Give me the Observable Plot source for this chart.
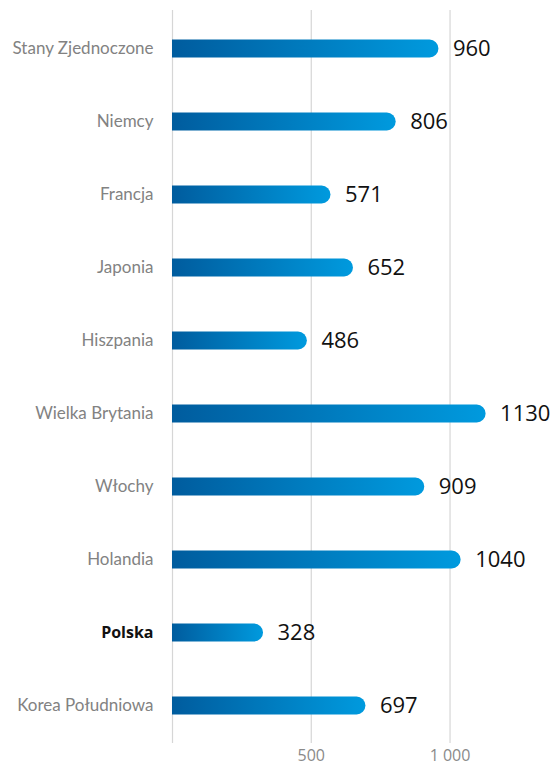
<!DOCTYPE html>
<html>
<head>
<meta charset="utf-8">
<script src="https://cdn.jsdelivr.net/npm/d3@7"></script>
<script src="https://cdn.jsdelivr.net/npm/@observablehq/plot@0.6"></script>
<style>
  html, body { margin: 0; padding: 0; background: #fff; }
  #chart svg { display: block; }
</style>
</head>
<body>
<div id="chart"></div>
<script>
const countries = ["Stany Zjednoczone", "Niemcy", "Francja", "Japonia", "Hiszpania", "Wielka Brytania", "Włochy", "Holandia", "Polska", "Korea Południowa"];
const values = [960, 806, 571, 652, 486, 1130, 909, 1040, 328, 697];
const tickValues = [500, 1000];
const tickLabels = ["500", "1 000"];
const highlight = "Polska";

const data = countries.map((c, i) => ({country: c, value: values[i]}));
const others = data.filter(d => d.country !== highlight);
const hl = data.filter(d => d.country === highlight);

const plot = Plot.plot({
  width: 555,
  height: 769,
  marginLeft: 172,
  marginRight: 0,
  marginTop: 10,
  marginBottom: 26,
  style: {fontFamily: "Lato, 'Open Sans', sans-serif", background: "#fff", overflow: "visible"},
  x: {domain: [0, 1380], axis: null},
  y: {domain: countries, axis: null, padding: 0},
  marks: [
    Plot.ruleX([0, ...tickValues], {stroke: "#d6d6d6", strokeWidth: 1.2, strokeOpacity: 1}),
    Plot.text(tickValues, {x: d => d, text: (d, i) => tickLabels[i], frameAnchor: "bottom", dy: 17, fill: "#8a8a8a", fontSize: 16, fontFamily: "'Open Sans', sans-serif"}),
    Plot.barX(data, {x: "value", y: "country", fill: "url(#barGrad)", insetTop: 27.6, insetBottom: 27.6, rx2: 9}),
    Plot.text(data, {x: "value", y: "country", text: d => String(d.value), textAnchor: "start", dx: 14, fontSize: 22, fill: "#111", fontFamily: "'Open Sans', sans-serif"}),
    Plot.text(others, {x: 0, y: "country", text: "country", textAnchor: "end", dx: -19, fontSize: 17, fill: "#828282"}),
    Plot.text(hl, {x: 0, y: "country", text: "country", textAnchor: "end", dx: -19, fontSize: 16, fill: "#111", fontWeight: "bold", fontFamily: "'Open Sans', sans-serif"})
  ]
});

const svg = d3.select(plot);
const defs = svg.insert("defs", ":first-child");
const g = defs.append("linearGradient").attr("id", "barGrad").attr("x1", 0).attr("x2", 1).attr("y1", 0).attr("y2", 0);
g.append("stop").attr("offset", "0%").attr("stop-color", "#005c9e");
g.append("stop").attr("offset", "100%").attr("stop-color", "#009ade");
document.getElementById("chart").appendChild(plot);
</script>
</body>
</html>
